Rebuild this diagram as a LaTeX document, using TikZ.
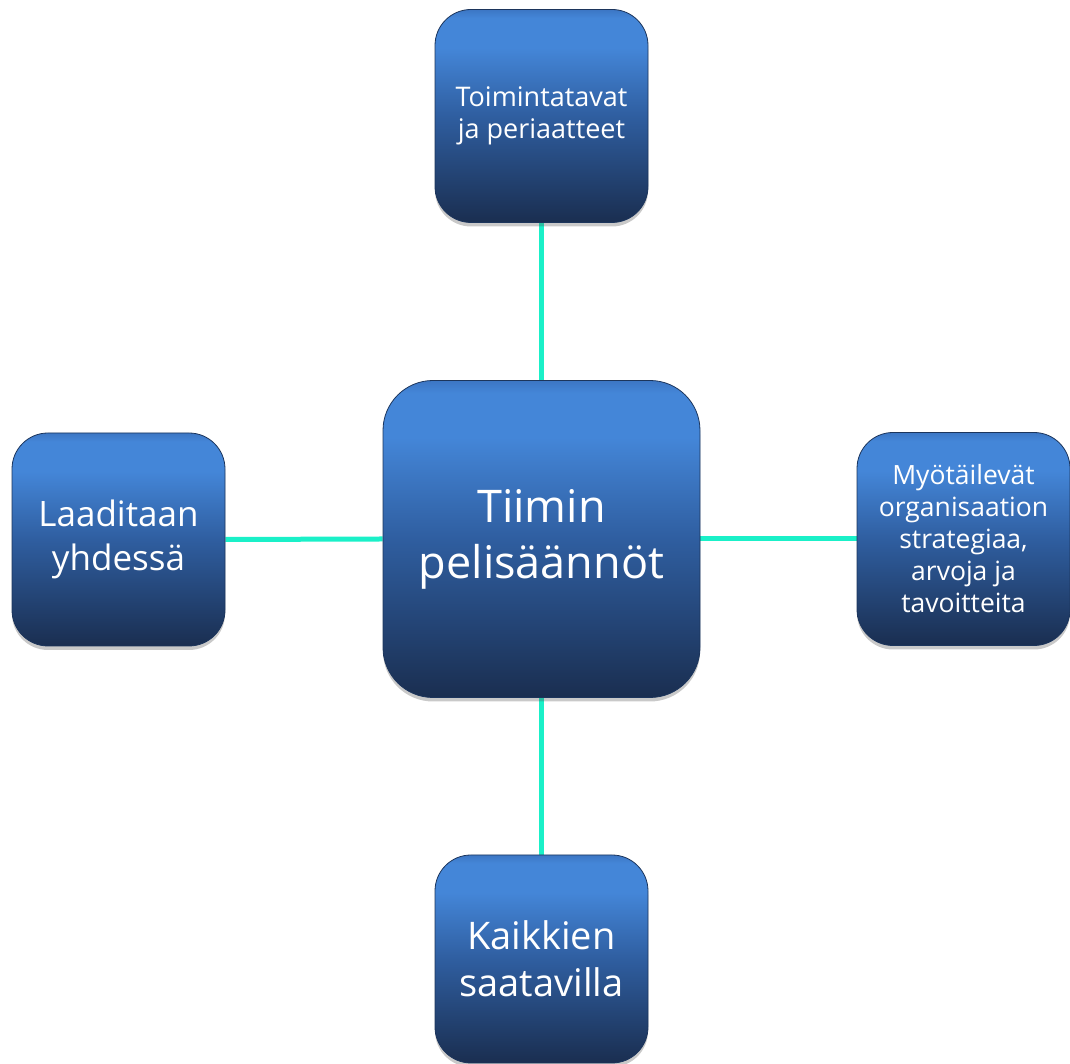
\documentclass[tikz,border=0pt]{standalone}
\usepackage{fontspec}
\setmainfont{Open Sans}
\usetikzlibrary{shadows,backgrounds}
\definecolor{boxtop}{HTML}{3C76C4}
\definecolor{boxlt}{HTML}{4486D8}
\definecolor{boxmid}{HTML}{2F5EA0}
\definecolor{boxdk}{HTML}{1A2E50}
\definecolor{boxborder}{HTML}{1C355C}
\definecolor{linkcol}{HTML}{1AF0C8}
\pgfdeclareverticalshading{boxshade}{100bp}{color(0bp)=(boxdk); color(25bp)=(boxdk); color(50bp)=(boxmid); color(66bp)=(boxlt); color(73bp)=(boxlt); color(75bp)=(boxtop); color(100bp)=(boxtop)}
\tikzset{
  box/.style={rectangle, rounded corners=36pt, minimum width=213pt, minimum height=213pt,
    draw=boxborder, line width=0.8pt, shading=boxshade, text=white, align=center, inner sep=2pt,
    drop shadow={opacity=0.3, shadow xshift=0pt, shadow yshift=-4pt, fill=black!70}},
  link/.style={draw=linkcol, line width=5pt}
}
\begin{document}
\begin{tikzpicture}[x=1pt,y=1pt]
\useasboundingbox (0,0) rectangle (1070,1064);
\node[box, minimum width=317pt, minimum height=317pt, rounded corners=50pt,
  font=\fontsize{45}{56}\selectfont] (c) at (541.5,525) {Tiimin\\pelisäännöt};
\node[box, font=\fontsize{27}{32}\selectfont] (t) at (541.5,948) {Toimintatavat\\ja periaatteet};
\node[box, font=\fontsize{35}{44}\selectfont] (l) at (118.5,524.5) {Laaditaan\\yhdessä};
\node[box, font=\fontsize{26.5}{32}\selectfont] (r) at (963.5,525) {Myötäilevät\\organisaation\\strategiaa,\\arvoja ja\\tavoitteita};
\node[box, minimum height=208pt, font=\fontsize{38}{47}\selectfont] (b) at (541.5,105) {Kaikkien\\saatavilla};
\begin{pgfonlayer}{background}
\draw[link] (c.north) -- (t.south);
\draw[link] (c.south) -- (b.north);
\draw[link] (c.west) -- (l.east);
\draw[link] (c.east) -- (r.west);
\end{pgfonlayer}
\end{tikzpicture}
\end{document}
